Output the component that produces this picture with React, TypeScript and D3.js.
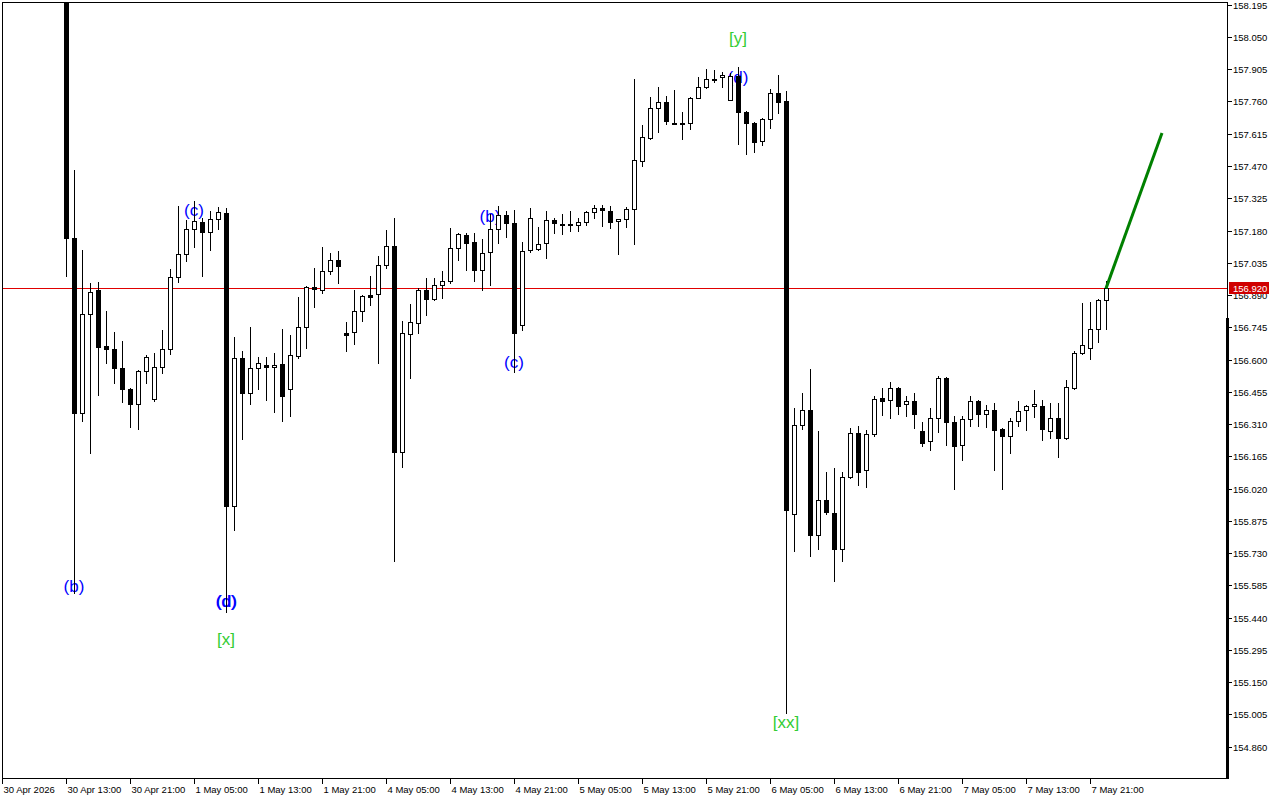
import React from "react";
import * as d3 from "d3";

// ---- data (USDJPY H1) ----
const openP = [
  158.26, 157.146, 156.36, 156.805, 156.913, 156.661, 156.648, 156.562, 156.468, 156.4,
  156.549, 156.423, 156.567, 156.648, 156.971, 157.075, 157.187, 157.218, 157.173, 157.232,
  157.259, 155.942, 156.607, 156.45, 156.562, 156.576, 156.567, 156.58, 156.468, 156.616,
  156.747, 156.926, 156.913, 156.998, 157.048, 156.72, 156.724, 156.818, 156.89, 156.895,
  157.025, 157.111, 156.185, 156.715, 156.764, 156.913, 156.872, 156.935, 156.953, 157.102,
  157.16, 157.128, 157.003, 157.084, 157.187, 157.25, 157.214, 156.756, 157.093, 157.097,
  157.124, 157.227, 157.209, 157.209, 157.205, 157.218, 157.263, 157.281, 157.268, 157.223,
  157.232, 157.277, 157.492, 157.596, 157.731, 157.758, 157.665, 157.663, 157.663, 157.776,
  157.825, 157.863, 157.87, 157.767, 157.874, 157.713, 157.663, 157.582, 157.681, 157.798,
  157.762, 155.906, 156.306, 156.373, 155.812, 155.969, 155.911, 155.749, 156.072, 156.27,
  156.104, 156.266, 156.427, 156.418, 156.472, 156.4, 156.414, 156.279, 156.234, 156.338,
  156.517, 156.32, 156.216, 156.333, 156.414, 156.355, 156.373, 156.288, 156.257, 156.324,
  156.373, 156.391, 156.391, 156.279, 156.338, 156.248, 156.472, 156.63, 156.652, 156.738,
  156.868,
];
const highP = [
  158.3, 157.452, 157.093, 156.944, 156.949, 156.818, 156.724, 156.684, 156.47, 156.552,
  156.621, 156.63, 156.733, 157.007, 157.29, 157.227, 157.313, 157.236, 157.268, 157.286,
  157.281, 156.702, 156.639, 156.747, 156.612, 156.612, 156.63, 156.738, 156.711, 156.881,
  156.931, 157.012, 157.106, 157.079, 157.088, 156.769, 156.913, 156.89, 156.976, 157.066,
  157.182, 157.236, 156.773, 156.85, 156.922, 156.967, 156.967, 156.998, 157.191, 157.169,
  157.169, 157.169, 157.142, 157.254, 157.29, 157.268, 157.272, 157.128, 157.281, 157.196,
  157.268, 157.236, 157.254, 157.268, 157.236, 157.268, 157.295, 157.295, 157.29, 157.232,
  157.286, 157.861, 157.654, 157.78, 157.825, 157.785, 157.812, 157.713, 157.78, 157.87,
  157.906, 157.901, 157.892, 157.888, 157.915, 157.717, 157.667, 157.686, 157.816, 157.879,
  157.807, 156.382, 156.45, 156.558, 156.279, 156.095, 156.113, 156.095, 156.293, 156.302,
  156.284, 156.436, 156.472, 156.499, 156.477, 156.436, 156.45, 156.32, 156.382, 156.526,
  156.522, 156.346, 156.346, 156.436, 156.418, 156.396, 156.405, 156.293, 156.338, 156.414,
  156.396, 156.463, 156.418, 156.405, 156.405, 156.508, 156.639, 156.854, 156.859, 156.872,
  156.953,
];
const lowP = [
  156.976, 155.551, 156.324, 156.18, 156.441, 156.585, 156.495, 156.409, 156.297, 156.288,
  156.495, 156.414, 156.54, 156.625, 156.949, 157.043, 157.106, 156.976, 157.093, 157.187,
  155.466, 155.834, 156.243, 156.4, 156.468, 156.418, 156.364, 156.324, 156.346, 156.607,
  156.652, 156.836, 156.899, 156.985, 156.944, 156.639, 156.67, 156.773, 156.845, 156.585,
  157.012, 155.695, 156.117, 156.517, 156.72, 156.8, 156.868, 156.877, 156.944, 157.048,
  157.003, 156.953, 156.913, 156.935, 157.124, 157.151, 156.544, 156.733, 157.084, 157.093,
  157.057, 157.169, 157.164, 157.178, 157.178, 157.205, 157.236, 157.2, 157.191, 157.075,
  157.196, 157.12, 157.47, 157.591, 157.623, 157.659, 157.659, 157.591, 157.636, 157.776,
  157.821, 157.848, 157.825, 157.765, 157.569, 157.524, 157.533, 157.564, 157.641, 157.708,
  155.012, 155.74, 156.288, 155.717, 155.749, 155.906, 155.605, 155.695, 156.068, 156.036,
  156.027, 156.257, 156.351, 156.338, 156.355, 156.346, 156.293, 156.212, 156.194, 156.275,
  156.216, 156.018, 156.149, 156.302, 156.302, 156.297, 156.104, 156.018, 156.18, 156.302,
  156.284, 156.342, 156.239, 156.248, 156.162, 156.243, 156.468, 156.625, 156.603, 156.679,
  156.738,
];
const closeP = [
  157.146, 156.36, 156.805, 156.904, 156.657, 156.648, 156.562, 156.468, 156.4, 156.549,
  156.612, 156.567, 156.648, 156.971, 157.075, 157.187, 157.223, 157.173, 157.232, 157.263,
  155.942, 156.607, 156.45, 156.562, 156.585, 156.567, 156.576, 156.436, 156.621, 156.747,
  156.926, 156.917, 156.998, 157.048, 157.021, 156.711, 156.818, 156.886, 156.881, 157.025,
  157.111, 156.185, 156.72, 156.769, 156.913, 156.872, 156.935, 156.953, 157.102, 157.164,
  157.124, 157.003, 157.079, 157.187, 157.25, 157.214, 156.72, 157.088, 157.236, 157.12,
  157.227, 157.214, 157.205, 157.205, 157.218, 157.263, 157.281, 157.272, 157.218, 157.232,
  157.277, 157.497, 157.6, 157.731, 157.758, 157.672, 157.663, 157.665, 157.776, 157.825,
  157.861, 157.859, 157.879, 157.874, 157.713, 157.663, 157.578, 157.681, 157.798, 157.758,
  155.924, 156.306, 156.373, 155.812, 155.969, 155.915, 155.749, 156.072, 156.27, 156.095,
  156.266, 156.423, 156.414, 156.472, 156.391, 156.414, 156.355, 156.225, 156.338, 156.517,
  156.32, 156.212, 156.333, 156.414, 156.355, 156.373, 156.284, 156.257, 156.324, 156.369,
  156.391, 156.4, 156.288, 156.338, 156.248, 156.477, 156.63, 156.666, 156.738, 156.868,
  156.92,
];

const timeLabels = [
  "30 Apr 2026", "30 Apr 13:00", "30 Apr 21:00", "1 May 05:00", "1 May 13:00", "1 May 21:00",
  "4 May 05:00", "4 May 13:00", "4 May 21:00", "5 May 05:00", "5 May 13:00", "5 May 21:00",
  "6 May 05:00", "6 May 13:00", "6 May 21:00", "7 May 05:00", "7 May 13:00", "7 May 21:00",
];
const timeLabelBars = [-8, 0, 8, 16, 24, 32, 40, 48, 56, 64, 72, 80, 88, 96, 104, 112, 120, 128];

const priceTicks = [
  158.195, 158.05, 157.905, 157.76, 157.615, 157.47, 157.325, 157.18, 157.035, 156.89,
  156.745, 156.6, 156.455, 156.31, 156.165, 156.02, 155.875, 155.73, 155.585, 155.44,
  155.295, 155.15, 155.005, 154.86,
];

const currentPrice = 156.92;
const scaleMarkerTop = 156.787;

const projBars = [130, 137];
const projPrices = [156.92, 157.618];

const waveTexts = ["(b)", "(c)", "(d)", "[x]", "(b)", "(c)", "[y]", "(d)", "[xx]"];
const waveBars = [1, 16, 20, 20, 53, 56, 84, 84, 90];
const wavePrices = [155.578, 157.272, 155.511, 155.344, 157.245, 156.585, 158.041, 157.87, 154.967];
const waveKinds = ["minor", "minor", "minor", "major", "minor", "minor", "major", "minor", "major"];

const MINOR = "#0000ff";
const MAJOR = "#33cc33";

const PL = 2, PT = 2, PR = 1227, PB = 778;

export default function App() {
  const x = d3.scaleLinear().domain([0, 130]).range([66, 1106]);
  const y = d3.scaleLinear().domain([154.86, 158.195]).range([746.7, 4.7]);
  const axisFont = "'Liberation Sans', Arial, sans-serif";

  const candles = openP.map((o, i) => ({ i, o, h: highP[i], l: lowP[i], c: closeP[i] }));
  const line = d3
    .line<number>()
    .x((_, k) => x(projBars[k]))
    .y((p) => y(p));

  const curY = Math.round(y(currentPrice)) + 0.5;

  return (
    <svg
      width={1280}
      height={800}
      style={{ position: "fixed", left: 0, top: 0, background: "#fff" }}
    >
      <defs>
        <clipPath id="plot">
          <rect x={PL + 1} y={PT + 1} width={PR - PL - 1} height={PB - PT - 1} />
        </clipPath>
      </defs>
      <rect x={0} y={0} width={1280} height={800} fill="#fff" />

      <g clipPath="url(#plot)">
        {/* wave labels (behind candles) */}
        {waveTexts.map((t, k) => {
          const cx = x(waveBars[k]);
          const cy = y(wavePrices[k]);
          const col = waveKinds[k] === "major" ? MAJOR : MINOR;
          const bold = k === 2;
          return (
            <g key={"w" + k}>
              <text
                x={cx}
                y={cy}
                fill={col}
                fontFamily="'Liberation Sans', Arial, sans-serif"
                fontSize={17}
                textAnchor="middle"
                dominantBaseline="central"
              >
                {t}
              </text>
              {bold && (
                <text
                  x={cx + 0.7}
                  y={cy}
                  fill={col}
                  fontFamily="'Liberation Sans', Arial, sans-serif"
                  fontSize={17}
                  textAnchor="middle"
                  dominantBaseline="central"
                >
                  {t}
                </text>
              )}
            </g>
          );
        })}

        {/* bid line */}
        <line x1={PL} x2={PR} y1={curY} y2={curY} stroke="#e00000" strokeWidth={1} />

        {/* candles */}
        {candles.map((d) => {
          const cx = Math.round(x(d.i)) + 0.5;
          const yo = y(d.o), yc = y(d.c);
          const top = Math.round(Math.min(yo, yc));
          const bot = Math.round(Math.max(yo, yc));
          const bull = d.c >= d.o;
          return (
            <g key={d.i}>
              <line
                x1={cx}
                x2={cx}
                y1={Math.round(y(d.h))}
                y2={Math.round(y(d.l)) + 1}
                stroke="#000"
                strokeWidth={1}
              />
              <rect
                x={cx - 2}
                y={top + 0.5}
                width={4}
                height={Math.max(bot - top, 1)}
                fill={bull ? "#fff" : "#000"}
                stroke="#000"
                strokeWidth={1}
              />
            </g>
          );
        })}

        {/* projection line */}
        <path d={line(projPrices) || ""} stroke="#008000" strokeWidth={3} fill="none" />
      </g>

      {/* frame */}
      <line x1={PL + 0.5} x2={PL + 0.5} y1={PT} y2={PB + 1} stroke="#000" />
      <line x1={PL} x2={PR + 1} y1={PT + 0.5} y2={PT + 0.5} stroke="#000" />
      <line x1={PL} x2={PR + 2} y1={PB + 0.5} y2={PB + 0.5} stroke="#000" />
      <line x1={PR + 0.5} x2={PR + 0.5} y1={PT} y2={PB + 1} stroke="#000" />
      <rect
        x={PR - 1}
        y={Math.round(y(scaleMarkerTop))}
        width={3}
        height={PB + 1 - Math.round(y(scaleMarkerTop))}
        fill="#000"
      />

      {/* price axis */}
      {priceTicks.map((p) => {
        const ty = Math.round(y(p)) + 0.5;
        return (
          <g key={"p" + p}>
            <line x1={PR + 1} x2={PR + 5} y1={ty} y2={ty} stroke="#000" />
            <text
              x={PR + 6}
              y={ty}
              fontFamily={axisFont}
              fontSize={9.5}
              fill="#000"
              dominantBaseline="central"
            >
              {p.toFixed(3)}
            </text>
          </g>
        );
      })}

      {/* current price tag */}
      <rect x={PR + 2} y={curY - 6.5} width={40} height={12} fill="#d00000" />
      <text
        x={PR + 6}
        y={curY}
        fontFamily={axisFont}
        fontSize={9.5}
        fill="#fff"
        dominantBaseline="central"
      >
        {currentPrice.toFixed(3)}
      </text>

      {/* time axis */}
      {timeLabels.map((t, k) => {
        const tx = Math.round(x(timeLabelBars[k])) + 0.5;
        return (
          <g key={"t" + k}>
            <line x1={tx} x2={tx} y1={PB} y2={PB + 6} stroke="#000" />
            <text x={tx + 1} y={PB + 15} fontFamily={axisFont} fontSize={9.5} fill="#000">
              {t}
            </text>
          </g>
        );
      })}
    </svg>
  );
}
